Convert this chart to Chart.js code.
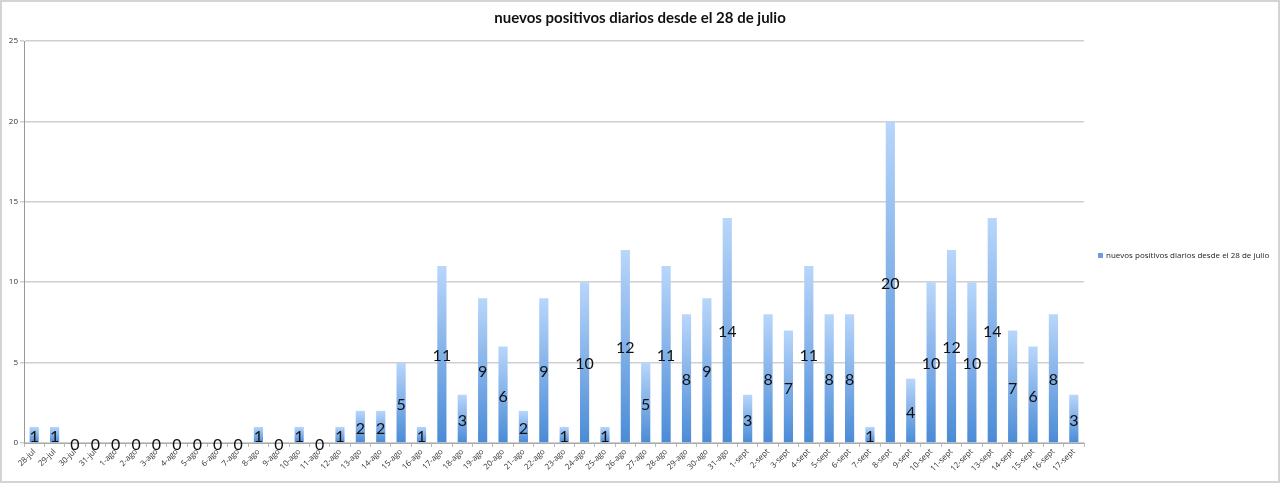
<!DOCTYPE html>
<html>
<head>
<meta charset="utf-8">
<script src="https://cdn.jsdelivr.net/npm/chart.js@4/dist/chart.umd.min.js"></script>
<style>
  html, body { margin: 0; padding: 0; background: #fff; }
  #wrap { width: 1280px; height: 483px; box-sizing: border-box; border: 2px solid #d4d4d4; }
  #wrap div { width: 1276px; height: 479px; }
</style>
</head>
<body>
<div id="wrap"><div><canvas id="casosChart"></canvas></div></div>
<script>
// fechas (eje x)
const fechas = [
    "28-jul", "29-jul", "30-jul", "31-jul",
    "1-ago", "2-ago", "3-ago", "4-ago", "5-ago", "6-ago", "7-ago", "8-ago", "9-ago", "10-ago",
    "11-ago", "12-ago", "13-ago", "14-ago", "15-ago", "16-ago", "17-ago", "18-ago", "19-ago", "20-ago",
    "21-ago", "22-ago", "23-ago", "24-ago", "25-ago", "26-ago", "27-ago", "28-ago", "29-ago", "30-ago", "31-ago",
    "1-sept", "2-sept", "3-sept", "4-sept", "5-sept", "6-sept", "7-sept", "8-sept", "9-sept", "10-sept",
    "11-sept", "12-sept", "13-sept", "14-sept", "15-sept", "16-sept", "17-sept"
];

// nuevos positivos por dia
const positivos = [
    1, 1, 0, 0,
    0, 0, 0, 0, 0, 0, 0, 1, 0, 1,
    0, 1, 2, 2, 5, 1, 11, 3, 9, 6,
    2, 9, 1, 10, 1, 12, 5, 11, 8, 9, 14,
    3, 8, 7, 11, 8, 8, 1, 20, 4, 10,
    12, 10, 14, 7, 6, 8, 3
];

const yTicks = [0, 5, 10, 15, 20, 25];
const serieNombre = "nuevos positivos diarios desde el 28 de julio";

// gradiente por barra: claro arriba, oscuro abajo
function barGradient(context) {
    const chart = context.chart;
    const y = chart.scales.y;
    if (!chart.chartArea || !y || context.raw === undefined) return "#7aaae8";
    const top = y.getPixelForValue(context.raw);
    const bottom = y.getPixelForValue(0);
    if (bottom - top < 1) return "#4c8ed8";
    const g = chart.ctx.createLinearGradient(0, top, 0, bottom);
    g.addColorStop(0, "#b9d6fb");
    g.addColorStop(1, "#4a8bd6");
    return g;
}

// etiquetas en el centro de cada barra
const barLabels = {
    id: "barLabels",
    afterDatasetsDraw(chart) {
        const ctx = chart.ctx;
        const meta = chart.getDatasetMeta(0);
        ctx.save();
        ctx.font = "16px Lato";
        ctx.fillStyle = "#111";
        ctx.textAlign = "center";
        ctx.textBaseline = "middle";
        meta.data.forEach((bar, i) => {
            const v = chart.data.datasets[0].data[i];
            ctx.fillText(String(v), bar.x, (bar.y + bar.base) / 2 + 2);
        });
        ctx.restore();
    }
};

// leyenda a la derecha
const sideLegend = {
    id: "sideLegend",
    afterDraw(chart) {
        const ctx = chart.ctx;
        const x = chart.chartArea.right + 14;
        const y = 254;
        ctx.save();
        ctx.fillStyle = "#6a9ee0";
        ctx.fillRect(x, y - 3, 5, 5);
        ctx.font = "8px 'Open Sans'";
        ctx.fillStyle = "#222";
        ctx.textBaseline = "middle";
        ctx.fillText(chart.data.datasets[0].label, x + 8, y);
        ctx.restore();
    }
};

const ctx = document.getElementById('casosChart').getContext('2d');

new Chart(ctx, {
    type: 'bar',
    data: {
        labels: fechas,
        datasets: [{
            label: serieNombre,
            data: positivos,
            backgroundColor: barGradient,
            borderWidth: 0,
            barPercentage: 0.45,
            categoryPercentage: 1
        }]
    },
    options: {
        responsive: true,
        maintainAspectRatio: false,
        animation: false,
        plugins: {
            legend: { display: false },
            tooltip: { enabled: false },
            title: {
                display: true,
                text: serieNombre,
                color: "#111",
                font: { family: "Lato", size: 15, weight: "bold" },
                padding: { top: 7, bottom: 14 }
            }
        },
        scales: {
            x: {
                grid: { display: true, drawOnChartArea: false, offset: true, tickLength: 4, color: "#bbb" },
                border: { color: "#aaa" },
                ticks: {
                    minRotation: 45,
                    maxRotation: 45,
                    autoSkip: false,
                    padding: 0,
                    color: "#333",
                    font: { family: "'Open Sans'", size: 8 }
                },
                afterFit(scale) { scale.height = 38; }
            },
            y: {
                min: 0,
                max: 25,
                afterBuildTicks(scale) { scale.ticks = yTicks.map(v => ({ value: v })); },
                grid: { color: "#cfcfcf", lineWidth: 1.5, tickLength: 4 },
                border: { color: "#999" },
                ticks: {
                    padding: 2,
                    color: "#333",
                    font: { family: "'Open Sans'", size: 8 }
                },
                afterFit(scale) { scale.width = 22; }
            },
            // espacio reservado para la leyenda (eje vacio)
            hueco: {
                position: 'right',
                grid: { display: false },
                border: { display: false },
                ticks: { display: false },
                afterFit(scale) { scale.width = 194; }
            }
        }
    },
    plugins: [barLabels, sideLegend]
});
</script>
</body>
</html>
